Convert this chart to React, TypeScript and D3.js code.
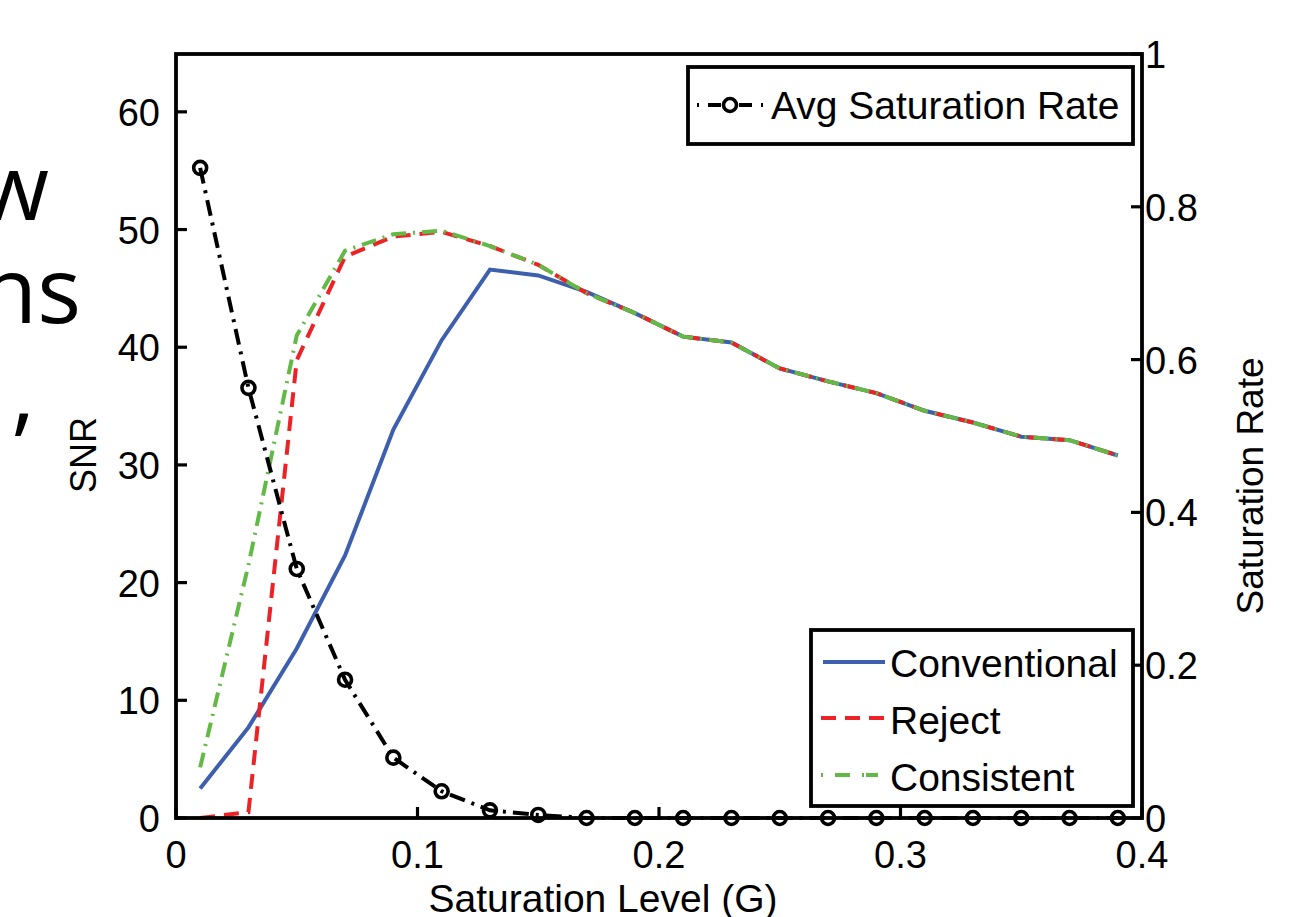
import React from 'react'
import * as d3 from 'd3'

// saturation level (G)
const levels = [0.01, 0.03, 0.05, 0.07, 0.09, 0.11, 0.13, 0.15, 0.17, 0.19, 0.21, 0.23, 0.25, 0.27, 0.29, 0.31, 0.33, 0.35, 0.37, 0.39]

// SNR series
const conventional = [2.5, 7.7, 14.4, 22.3, 33.0, 40.6, 46.6, 46.1, 44.7, 42.9, 40.9, 40.4, 38.2, 37.1, 36.1, 34.6, 33.6, 32.4, 32.1, 30.8]
const reject = [0, 0.5, 38.9, 47.7, 49.4, 49.8, 48.6, 47.0, 44.6, 42.9, 40.9, 40.4, 38.2, 37.1, 36.1, 34.6, 33.6, 32.4, 32.1, 30.8]
const consistent = [4.3, 21.5, 41.0, 48.2, 49.6, 49.9, 48.6, 47.0, 44.6, 42.9, 40.9, 40.4, 38.2, 37.1, 36.1, 34.6, 33.6, 32.4, 32.1, 30.8]

// avg saturation rate (right axis)
const satRate = [0.851, 0.563, 0.326, 0.181, 0.079, 0.035, 0.010, 0.004, 0, 0, 0, 0, 0, 0, 0, 0, 0, 0, 0, 0]

const xTicks = [0, 0.1, 0.2, 0.3, 0.4]
const snrTicks = [0, 10, 20, 30, 40, 50, 60]
const rateTicks = [0, 0.2, 0.4, 0.6, 0.8, 1]

// clipped text at the left edge of the picture
const sideText = ['w', 'ns', ',']

const W = 1313, H = 917
const L = 176, R = 1142, T = 54, B = 818
const font = "'Liberation Sans', Arial, sans-serif"

export default function App() {
  const x = d3.scaleLinear().domain([0, 0.4]).range([L, R])
  const ySnr = d3.scaleLinear().domain([0, 65]).range([B, T - 1])
  const yRate = d3.scaleLinear().domain([0, 1]).range([B, T])

  const snrLine = d3.line<number>().x((d, i) => x(levels[i])).y(d => ySnr(d))
  const rateLine = d3.line<number>().x((d, i) => x(levels[i])).y(d => yRate(d))

  const fmt = (v: number) => (v === 0 ? '0' : v === 1 ? '1' : String(v))

  return (
    <svg width={W} height={H} style={{ position: 'absolute', left: 0, top: 0, display: 'block', background: '#fff' }}>
      {/* left text fragments */}
      <g fontFamily="'Open Sans', 'Noto Sans', sans-serif" fontSize={92} fill="#000" textAnchor="end">
        <text x={49} y={220}>{sideText[0]}</text>
        <text x={81} y={323}>{sideText[1]}</text>
        <text x={35} y={424}>{sideText[2]}</text>
      </g>

      {/* series */}
      <path d={snrLine(conventional) || ''} fill="none" stroke="#3d5fae" strokeWidth={4} />
      <path d={snrLine(reject) || ''} fill="none" stroke="#ec2227" strokeWidth={4} strokeDasharray="15,9" />
      <path d={snrLine(consistent) || ''} fill="none" stroke="#62b946" strokeWidth={4} strokeDasharray="15,7,2,7" />
      <path d={rateLine(satRate) || ''} fill="none" stroke="#000" strokeWidth={4} strokeDasharray="16,7,3,7" />
      {satRate.map((v, i) => (
        <circle key={i} cx={x(levels[i])} cy={yRate(v)} r={6.5} fill="none" stroke="#000" strokeWidth={3.6} />
      ))}

      {/* axes box */}
      <rect x={L} y={T} width={R - L} height={B - T} fill="none" stroke="#000" strokeWidth={3.8} />

      <g fontFamily={font} fontSize={38} fill="#000">
        {xTicks.map(t => (
          <g key={'x' + t}>
            <line x1={x(t)} x2={x(t)} y1={B} y2={B - 11} stroke="#000" strokeWidth={3.2} />
            <text x={x(t)} y={868} textAnchor="middle">{fmt(t)}</text>
          </g>
        ))}
        {snrTicks.map(t => (
          <g key={'s' + t}>
            <line x1={L} x2={L + 11} y1={ySnr(t)} y2={ySnr(t)} stroke="#000" strokeWidth={3.2} />
            <text x={160} y={ySnr(t) + 14} textAnchor="end">{t}</text>
          </g>
        ))}
        {rateTicks.map(t => (
          <g key={'r' + t}>
            <line x1={R} x2={R - 11} y1={yRate(t)} y2={yRate(t)} stroke="#000" strokeWidth={3.2} />
            <text x={1145} y={yRate(t) + 14}>{fmt(t)}</text>
          </g>
        ))}
      </g>

      {/* axis titles */}
      <g fontFamily={font} fill="#000">
        <text x={603} y={912} textAnchor="middle" fontSize={39}>Saturation Level (G)</text>
        <text transform={`translate(96,455) rotate(-90)`} textAnchor="middle" fontSize={36}>SNR</text>
        <text transform={`translate(1263,486) rotate(-90)`} textAnchor="middle" fontSize={37}>Saturation Rate</text>
      </g>

      {/* legend: avg saturation rate */}
      <g fontFamily={font} fontSize={39}>
        <rect x={688} y={67} width={445} height={77} fill="#fff" stroke="#000" strokeWidth={3.8} />
        <line x1={697} x2={764} y1={105} y2={105} stroke="#000" strokeWidth={4} strokeDasharray="2,9,13,18,13,9,2" />
        <circle cx={730} cy={105} r={6.5} fill="none" stroke="#000" strokeWidth={3.6} />
        <text x={771} y={119}>Avg Saturation Rate</text>
      </g>

      {/* legend: SNR series */}
      <g fontFamily={font} fontSize={39}>
        <rect x={811} y={630} width={322} height={176} fill="#fff" stroke="#000" strokeWidth={3.8} />
        <line x1={823} x2={885} y1={662} y2={662} stroke="#3d5fae" strokeWidth={4} />
        <text x={890} y={677}>Conventional</text>
        <line x1={821} x2={885} y1={718} y2={718} stroke="#ec2227" strokeWidth={4} strokeDasharray="15,9" />
        <text x={890} y={734}>Reject</text>
        <line x1={821} x2={885} y1={775} y2={775} stroke="#62b946" strokeWidth={4} strokeDasharray="2,12,15,12,2" />
        <text x={890} y={791}>Consistent</text>
      </g>
    </svg>
  )
}
